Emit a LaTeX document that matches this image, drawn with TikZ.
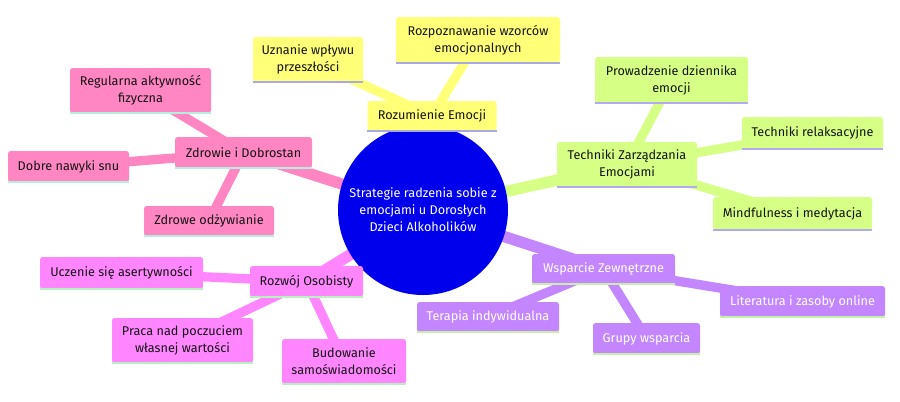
\documentclass[tikz,border=0pt]{standalone}
\usepackage{fontspec}
\setmainfont{Fira Sans}
\usetikzlibrary{backgrounds}

\definecolor{croot}{HTML}{0000EC}
\definecolor{cyellow}{HTML}{FFFF78}
\definecolor{cgreen}{HTML}{D6FF86}
\definecolor{cpurple}{HTML}{C386FF}
\definecolor{cmagenta}{HTML}{FF86FF}
\definecolor{cpink}{HTML}{FF86C3}
\definecolor{uyellow}{HTML}{A9A9E6}
\definecolor{ugreen}{HTML}{B3A9EE}
\definecolor{upurple}{HTML}{C6F0A8}
\definecolor{umagenta}{HTML}{B8F0C0}
\definecolor{upink}{HTML}{B4EEDC}
\definecolor{ctext}{HTML}{141414}
\tikzset{mmap/.style={x=0.75pt,y=-0.75pt,font=\fontsize{9.5}{12.75}\selectfont},
  sz/.style 2 args={minimum width=#1*0.75pt,minimum height=#2*0.75pt},
  mbox/.style={fill=#1,rounded corners=2pt,align=center,inner sep=0pt,text=ctext},
  trunk/.style={line width=8.5pt,#1},
  twig/.style={line width=7pt,#1}}

\begin{document}
\begin{tikzpicture}[mmap]
    \useasboundingbox (0,0) rectangle (900,401);
    % root
    \node[circle,fill=croot,text=white,align=center,minimum size=170*0.75pt,inner sep=0pt] (root) at (423,210)
      {Strategie radzenia sobie z\\emocjami u Dorosłych\\Dzieci Alkoholików};
    % yellow
    \node[mbox=cyellow,sz={129}{30}] (emocje) at (432,116) {Rozumienie Emocji};
    \node[mbox=cyellow,sz={110}{45}] (wplyw) at (308,59.5) {Uznanie wpływu\\przeszłości};
    \node[mbox=cyellow,sz={164}{46}] (wzorce) at (478,40) {Rozpoznawanie wzorców\\emocjonalnych};
    % pink
    \node[mbox=cpink,sz={137}{31}] (zdrowie) at (243.5,152.5) {Zdrowie i Dobrostan};
    \node[mbox=cpink,sz={141}{45}] (ruch) at (140.5,90.5) {Regularna aktywność\\fizyczna};
    \node[mbox=cpink,sz={121}{31}] (sen) at (68.5,166.5) {Dobre nawyki snu};
    \node[mbox=cpink,sz={130}{30}] (dieta) at (209,221) {Zdrowe odżywianie};
    % green
    \node[mbox=cgreen,sz={140}{45}] (techniki) at (627,164.5) {Techniki Zarządzania\\Emocjami};
    \node[mbox=cgreen,sz={153}{46}] (dziennik) at (671.5,80) {Prowadzenie dziennika\\emocji};
    \node[mbox=cgreen,sz={141}{32}] (relaks) at (812.5,133) {Techniki relaksacyjne};
    \node[mbox=cgreen,sz={159}{33}] (mindful) at (792.5,213.5) {Mindfulness i medytacja};
    % magenta
    \node[mbox=cmagenta,sz={113}{31}] (rozwoj) at (306.5,281.5) {Rozwój Osobisty};
    \node[mbox=cmagenta,sz={163}{32}] (asert) at (121.5,273) {Uczenie się asertywności};
    \node[mbox=cmagenta,sz={141}{45}] (wartosc) at (182.5,340.5) {Praca nad poczuciem\\własnej wartości};
    \node[mbox=cmagenta,sz={124}{45}] (samo) at (344,361.5) {Budowanie\\samoświadomości};
    % purple
    \node[mbox=cpurple,text=white,sz={143}{30}] (wsparcie) at (603.5,269) {Wsparcie Zewnętrzne};
    \node[mbox=cpurple,text=white,sz={165}{31}] (lit) at (802.5,301.5) {Literatura i zasoby online};
    \node[mbox=cpurple,text=white,sz={142}{30}] (terapia) at (488,317) {Terapia indywidualna};
    \node[mbox=cpurple,text=white,sz={107}{31}] (grupy) at (646.5,338.5) {Grupy wsparcia};
    % underlines
    \foreach \n/\c in {emocje/uyellow,wplyw/uyellow,wzorce/uyellow,
        zdrowie/upink,ruch/upink,sen/upink,dieta/upink,
        techniki/ugreen,dziennik/ugreen,relaks/ugreen,mindful/ugreen,
        rozwoj/umagenta,asert/umagenta,wartosc/umagenta,samo/umagenta,
        wsparcie/upurple,lit/upurple,terapia/upurple,grupy/upurple}
      \draw[\c,line width=1.5pt] (\n.south west) -- (\n.south east);
    \begin{pgfonlayer}{background}
      \draw[trunk=cyellow] (root.center) -- (emocje.center);
      \draw[trunk=cpink] (root.center) -- (zdrowie.center);
      \draw[trunk=cgreen] (root.center) -- (techniki.center);
      \draw[trunk=cmagenta] (root.center) -- (rozwoj.center);
      \draw[trunk=cpurple] (root.center) -- (wsparcie.center);
      \foreach \a/\b/\c in {emocje/wplyw/cyellow,emocje/wzorce/cyellow,
          zdrowie/ruch/cpink,zdrowie/sen/cpink,zdrowie/dieta/cpink,
          techniki/dziennik/cgreen,techniki/relaks/cgreen,techniki/mindful/cgreen,
          rozwoj/asert/cmagenta,rozwoj/wartosc/cmagenta,rozwoj/samo/cmagenta,
          wsparcie/lit/cpurple,wsparcie/terapia/cpurple,wsparcie/grupy/cpurple}
        \draw[twig=\c] (\a.center) -- (\b.center);
    \end{pgfonlayer}
\end{tikzpicture}
\end{document}
